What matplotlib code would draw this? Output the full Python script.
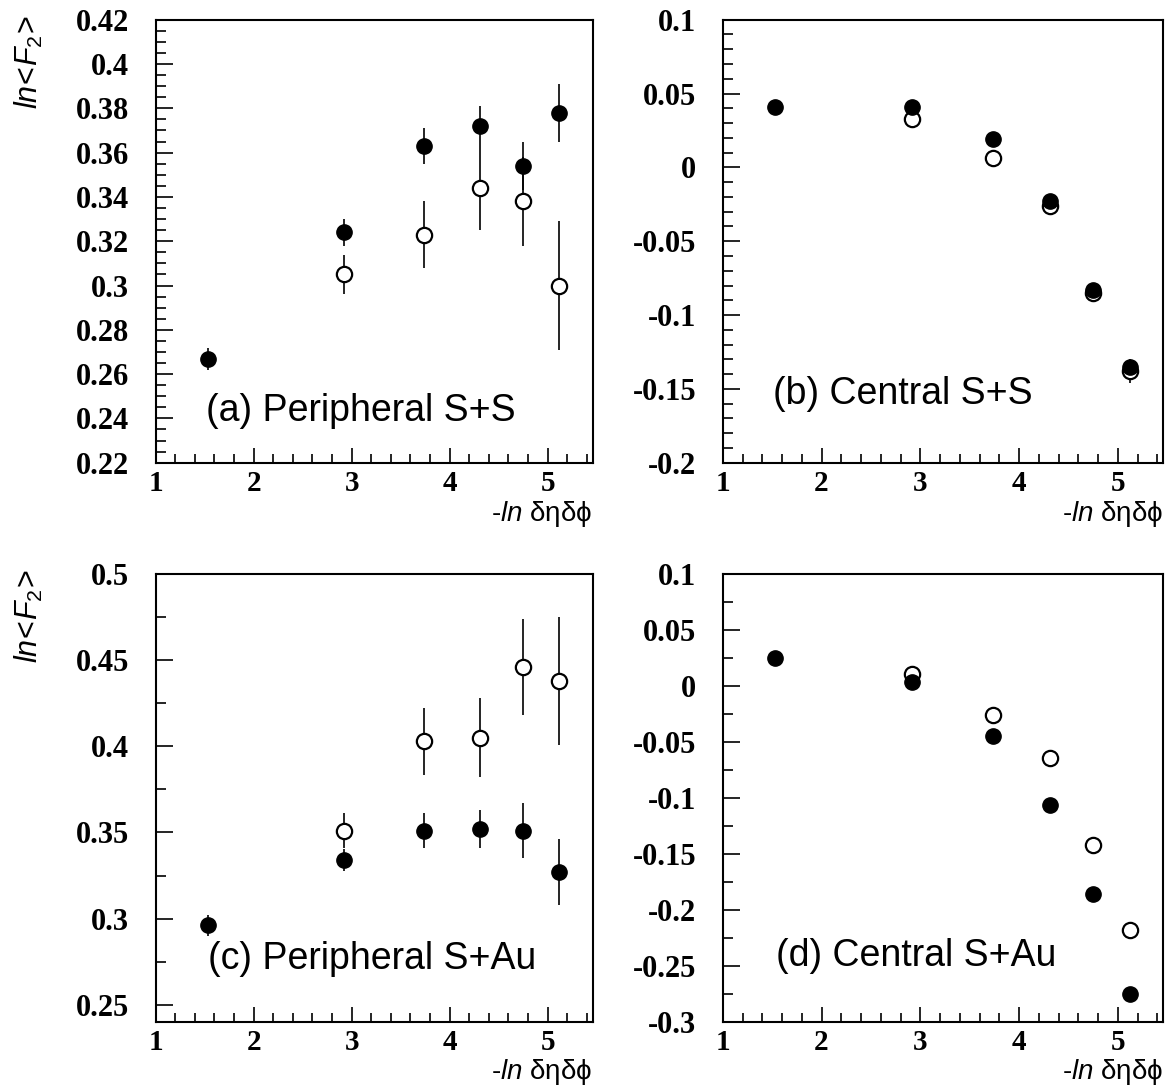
import matplotlib
matplotlib.use("Agg")
import matplotlib.pyplot as plt
from matplotlib.ticker import MultipleLocator, FuncFormatter

plt.rcParams['mathtext.fontset'] = 'custom'
plt.rcParams['mathtext.it'] = 'Liberation Sans:italic'
plt.rcParams['mathtext.rm'] = 'Liberation Sans'

# -ln(deta dphi) bins
x_full = [1.53, 2.92, 3.74, 4.31, 4.75, 5.12]
x_open = [2.92, 3.74, 4.31, 4.75, 5.12]

# (a) peripheral S+S
pss_filled = [0.267, 0.324, 0.363, 0.372, 0.354, 0.378]
pss_filled_err = [0.005, 0.006, 0.008, 0.009, 0.011, 0.013]
pss_open = [0.305, 0.323, 0.344, 0.338, 0.300]
pss_open_err = [0.009, 0.015, 0.019, 0.020, 0.029]

# (b) central S+S
css_filled = [0.041, 0.041, 0.019, -0.023, -0.083, -0.135]
css_filled_err = [0.002, 0.002, 0.002, 0.003, 0.003, 0.004]
css_open = [0.033, 0.0065, -0.026, -0.085, -0.138]
css_open_err = [0.002, 0.002, 0.004, 0.005, 0.008]

# (c) peripheral S+Au
psau_filled = [0.296, 0.334, 0.351, 0.352, 0.351, 0.327]
psau_filled_err = [0.006, 0.0066, 0.010, 0.011, 0.016, 0.019]
psau_open = [0.351, 0.403, 0.405, 0.446, 0.438]
psau_open_err = [0.010, 0.0195, 0.023, 0.028, 0.037]

# (d) central S+Au
csau_filled = [0.025, 0.004, -0.045, -0.106, -0.186, -0.275]
csau_filled_err = [0.002, 0.002, 0.002, 0.002, 0.003, 0.003]
csau_open = [0.011, -0.026, -0.064, -0.142, -0.218]
csau_open_err = [0.002, 0.002, 0.002, 0.003, 0.003]

W, H = 1168, 1090
fig = plt.figure(figsize=(W / 100, H / 100), dpi=100)


def fmt(v, pos):
    s = f"{v:.3f}".rstrip('0').rstrip('.')
    return "0" if s in ("-0", "") else s


def panel(rect, ylim, ymaj, ymin, filled, filled_err, opn, opn_err, label, lab_pos, xlab_y,
          ylabel=False):
    ax = fig.add_axes(rect)
    ax.errorbar(x_open, opn, yerr=opn_err, fmt='o', ms=11, mfc='white', mec='black',
                mew=1.6, ecolor='black', elinewidth=1.2, capsize=0, zorder=2)
    ax.errorbar(x_full, filled, yerr=filled_err, fmt='o', ms=11, mfc='black', mec='black',
                ecolor='black', elinewidth=1.2, capsize=0, zorder=3)
    ax.set_xlim(1, 5.46)
    ax.set_ylim(*ylim)
    ax.xaxis.set_major_locator(MultipleLocator(1))
    ax.xaxis.set_minor_locator(MultipleLocator(0.2))
    ax.yaxis.set_major_locator(MultipleLocator(ymaj))
    ax.yaxis.set_minor_locator(MultipleLocator(ymin))
    ax.yaxis.set_major_formatter(FuncFormatter(fmt))
    ax.xaxis.set_major_formatter(FuncFormatter(fmt))
    ax.tick_params(which='both', direction='in', top=False, right=False, width=1.2)
    ax.tick_params(axis='y', which='major', length=12.5, pad=19)
    ax.tick_params(axis='y', which='minor', length=7)
    ax.tick_params(axis='x', which='major', length=11, pad=5)
    ax.tick_params(axis='x', which='minor', length=6.5)
    for lab in ax.get_yticklabels():
        lab.set_fontfamily('Liberation Serif')
        lab.set_fontweight('bold')
        lab.set_fontsize(22)
    for lab in ax.get_xticklabels():
        lab.set_fontfamily('Liberation Serif')
        lab.set_fontweight('bold')
        lab.set_fontsize(21)
    for sp in ax.spines.values():
        sp.set_linewidth(1.5)
    ax.text(lab_pos[0], lab_pos[1], label, transform=ax.transAxes, ha='left', va='baseline',
            fontsize=27, family='Liberation Sans')
    ax.text(1.0, xlab_y, r'-$ln$ δηδϕ', transform=ax.transAxes, ha='right', va='top',
            fontsize=20, family=['Liberation Sans', 'DejaVu Sans'])
    if ylabel:
        ax.text(-0.29, 1.01, r'$ln\!<\!F_2\!>$', transform=ax.transAxes, rotation=90,
                ha='center', va='top', fontsize=22)
    return ax


panel([0.1333, 0.5755, 0.3741, 0.4064], (0.22, 0.42), 0.02, 0.005,
      pss_filled, pss_filled_err, pss_open, pss_open_err,
      "(a) Peripheral S+S", (0.115, 0.094), -0.0813, ylabel=True)
panel([0.6188, 0.5755, 0.3772, 0.4064], (-0.2, 0.1), 0.05, 0.01,
      css_filled, css_filled_err, css_open, css_open_err,
      "(b) Central S+S", (0.114, 0.133), -0.0813)
panel([0.1333, 0.0624, 0.3741, 0.4110], (0.24, 0.5), 0.05, 0.025,
      psau_filled, psau_filled_err, psau_open, psau_open_err,
      "(c) Peripheral S+Au", (0.12, 0.118), -0.0783, ylabel=True)
panel([0.6188, 0.0624, 0.3772, 0.4110], (-0.3, 0.1), 0.05, 0.025,
      csau_filled, csau_filled_err, csau_open, csau_open_err,
      "(d) Central S+Au", (0.12, 0.126), -0.0783)

fig.savefig("out.png", dpi=100)
